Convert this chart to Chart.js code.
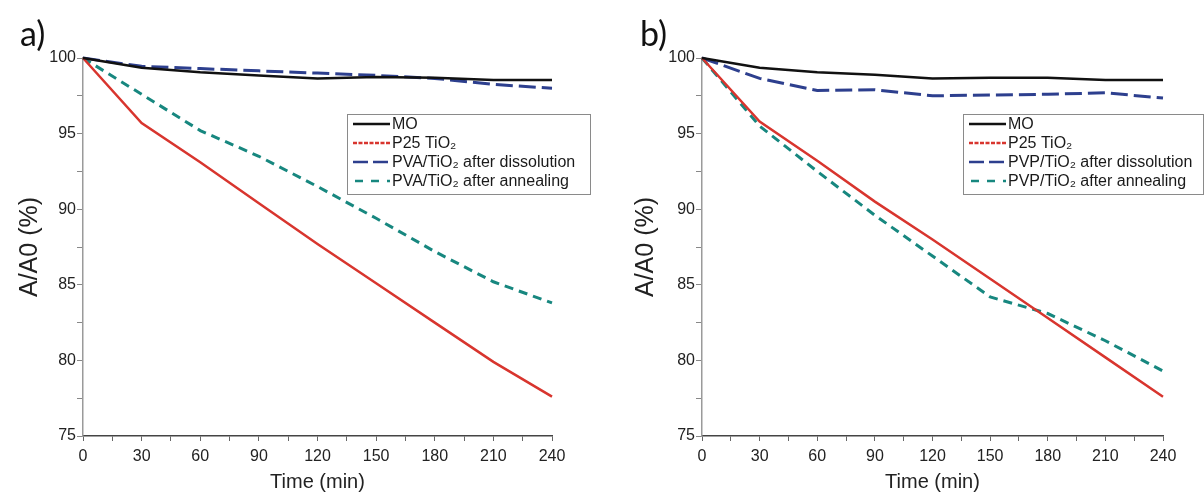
<!DOCTYPE html>
<html>
<head>
<meta charset="utf-8">
<script src="https://cdn.jsdelivr.net/npm/chart.js@4.4.1/dist/chart.umd.min.js"></script>
<style>
body{margin:0;background:#fff;width:1204px;height:493px;overflow:hidden;position:relative}
.panel{position:absolute;top:0;width:602px;height:493px}
</style>
</head>
<body>
<div class="panel" style="left:0"><canvas id="chartA"></canvas></div>
<div class="panel" style="left:602px"><canvas id="chartB"></canvas></div>
<script>
// time axis (min)
var times = [0, 30, 60, 90, 120, 150, 180, 210, 240];

// panel a
var moA      = [100, 99.35, 99.05, 98.85, 98.65, 98.75, 98.7, 98.55, 98.55];
var p25A     = [100, 95.7, 93.1, 90.4, 87.7, 85.1, 82.5, 79.9, 77.6];
var pvaDissA = [100, 99.45, 99.3, 99.15, 99.0, 98.85, 98.65, 98.25, 98.0];
var pvaAnnA  = [100, 97.6, 95.2, 93.5, 91.5, 89.4, 87.2, 85.2, 83.8];
var namesA = ['MO', 'P25 TiO₂', 'PVA/TiO₂ after dissolution', 'PVA/TiO₂ after annealing'];

// panel b
var moB      = [100, 99.35, 99.05, 98.9, 98.65, 98.7, 98.7, 98.55, 98.55];
var p25B     = [100, 95.8, 93.2, 90.5, 88.0, 85.4, 82.8, 80.2, 77.6];
var pvpDissB = [100, 98.65, 97.85, 97.9, 97.5, 97.55, 97.6, 97.7, 97.35];
var pvpAnnB  = [100, 95.5, 92.5, 89.6, 86.9, 84.2, 83.1, 81.3, 79.3];
var namesB = ['MO', 'P25 TiO₂', 'PVP/TiO₂ after dissolution', 'PVP/TiO₂ after annealing'];

var lineColors = ['#111111', '#d8352e', '#2d3f8e', '#17877f'];
var lineWidths = [2.5, 2.5, 3, 3];
var lineDash = [[], [], [17, 6], [9, 6]];
var legendDash = [[], [4, 1.5], [15, 5], [8, 8]];

var FONT = '"Liberation Sans", Arial, sans-serif';

// panel letter + boxed legend drawn on the canvas
var panelDecor = {
    id: 'panelDecor',
    afterDraw: function (chart, args, o) {
        var ctx = chart.ctx;
        ctx.save();
        ctx.fillStyle = '#111';
        ctx.font = '34px Lato, "Noto Sans", sans-serif';
        ctx.textBaseline = 'alphabetic';
        ctx.textAlign = 'left';
        ctx.fillText(o.letter, o.letterX, 46);

        var b = o.box;
        ctx.fillStyle = '#fff';
        ctx.fillRect(b[0], b[1], b[2], b[3]);
        ctx.strokeStyle = '#8a8a8a';
        ctx.lineWidth = 1;
        ctx.strokeRect(b[0] + 0.5, b[1] + 0.5, b[2], b[3]);

        chart.data.datasets.forEach(function (ds, i) {
            var y = b[1] + 10 + i * 19;
            ctx.strokeStyle = ds.borderColor;
            ctx.lineWidth = 2.5;
            ctx.setLineDash(legendDash[i]);
            ctx.lineDashOffset = i == 3 ? -2 : 0;
            ctx.beginPath();
            ctx.moveTo(b[0] + 6, y);
            ctx.lineTo(b[0] + 43, y);
            ctx.stroke();
            ctx.setLineDash([]);
            ctx.fillStyle = '#1a1a1a';
            ctx.font = '16px ' + FONT;
            ctx.textBaseline = 'middle';
            ctx.fillText(ds.label, b[0] + 45, y + 1);
        });
        ctx.restore();
    }
};

function makeChart(id, series, names, cfg) {
    var datasets = series.map(function (vals, i) {
        return {
            label: names[i],
            data: times.map(function (t, k) { return {x: t, y: vals[k]}; }),
            borderColor: lineColors[i],
            borderWidth: lineWidths[i],
            borderDash: lineDash[i],
            pointRadius: 0,
            tension: 0,
            fill: false,
            clip: 6
        };
    });
    return new Chart(document.getElementById(id), {
        type: 'line',
        data: {datasets: datasets},
        options: {
            responsive: true,
            maintainAspectRatio: false,
            animation: false,
            layout: {padding: {left: 0, top: 58, right: cfg.padRight, bottom: 0}},
            plugins: {
                legend: {display: false},
                tooltip: {enabled: false},
                panelDecor: {letter: cfg.letter, letterX: cfg.letterX, box: cfg.box}
            },
            scales: {
                x: {
                    type: 'linear',
                    min: 0,
                    max: 240,
                    ticks: {
                        stepSize: 15,
                        autoSkip: false,
                        maxRotation: 0,
                        padding: 6,
                        color: '#222',
                        font: {family: FONT, size: 16},
                        callback: function (v) { return v % 30 === 0 ? v : ''; }
                    },
                    grid: {drawOnChartArea: false, drawTicks: true, tickLength: 5, color: '#666'},
                    border: {color: '#444', width: 1.5},
                    title: {
                        display: true,
                        text: 'Time (min)',
                        color: '#222',
                        font: {family: FONT, size: 20, lineHeight: 1},
                        padding: {top: 0, bottom: 1}
                    },
                    afterFit: function (s) { s.height = 57; }
                },
                y: {
                    min: 75,
                    max: 100,
                    ticks: {
                        stepSize: 2.5,
                        padding: 1,
                        color: '#222',
                        font: {family: FONT, size: 16},
                        callback: function (v) { return v % 5 === 0 ? v : ''; }
                    },
                    grid: {drawOnChartArea: false, drawTicks: true, tickLength: 6, color: '#888'},
                    border: {color: '#9a9a9a', width: 1.5},
                    title: {
                        display: true,
                        text: 'A/A0 (%)',
                        color: '#222',
                        font: {family: FONT, size: 25, lineHeight: 1.2},
                        padding: {top: cfg.titlePad, bottom: 0}
                    },
                    afterFit: function (s) { s.width = cfg.yWidth; }
                }
            }
        },
        plugins: [panelDecor]
    });
}

makeChart('chartA', [moA, p25A, pvaDissA, pvaAnnA], namesA,
    {letter: 'a)', letterX: 20, padRight: 50, yWidth: 83, titlePad: 15, box: [347, 114, 243, 80]});
makeChart('chartB', [moB, p25B, pvpDissB, pvpAnnB], namesB,
    {letter: 'b)', letterX: 38, padRight: 41, yWidth: 100, titlePad: 29, box: [361, 114, 240, 80]});
</script>
</body>
</html>
